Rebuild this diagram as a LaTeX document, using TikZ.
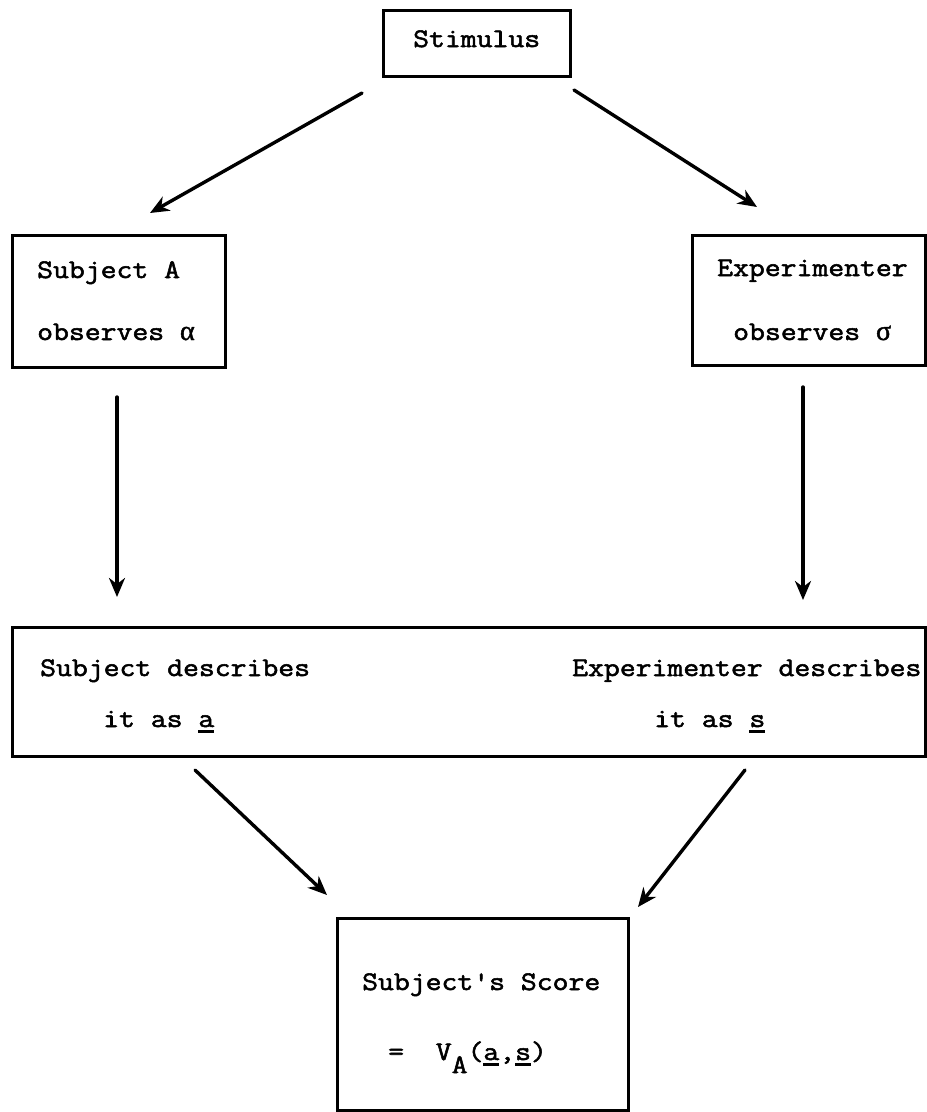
\documentclass[tikz,border=0pt]{standalone}
\usepackage{fontspec}
\setmonofont[FakeStretch=1.15, FakeBold=2]{Latin Modern Mono}
\newfontfamily\grk[FakeBold=1.5]{Liberation Serif}
\usetikzlibrary{arrows.meta}
% typewriter text at the size of the figure
\newcommand{\tw}{\ttfamily\fontsize{26.8}{30}\selectfont}
% Greek letters taken from a serif face
\newcommand{\gk}[1]{{\grk\fontsize{28}{30}\selectfont #1}}
% heavy typewriter-style underline
\newcommand{\usc}[1]{\sbox0{#1}\rlap{\rule[-6pt]{\wd0}{2.6pt}}#1}
\begin{document}
\begin{tikzpicture}[x=1pt,y=-1pt,
  box/.style={draw, line width=3pt, inner sep=0pt},
  txt/.style={anchor=base west, inner sep=0pt, font=\tw},
  flow/.style={line width=3.4pt, line cap=round,
    -{Stealth[length=19pt,width=16pt,inset=6pt]}}]
\useasboundingbox (0,0) rectangle (927,1112);

% boxes
\node[box, minimum width=187pt, minimum height=66pt]  (stim)  at (476.5,43)   {};
\node[box, minimum width=213pt, minimum height=132pt] (subj)  at (118.5,301)  {};
\node[box, minimum width=233pt, minimum height=130pt] (expt)  at (808.5,300)  {};
\node[box, minimum width=913pt, minimum height=129pt] (desc)  at (468.5,691.5) {};
\node[box, minimum width=291pt, minimum height=192pt] (score) at (482.5,1014) {};

% texts
\node[txt] (tstim) at (413,47)  {Stimulus};
\node[txt] (ts1)   at (37,278)  {Subject A};
\node[txt] (ts2)   at (37,340)  {observes \gk{α}};
\node[txt] (te1)   at (717,276) {Experimenter};
\node[txt] (te2)   at (733,340) {observes \gk{σ}};
\node[txt] (td1)   at (40,676)  {Subject describes};
\node[txt] (td2)   at (103,727) {it as \usc{a}};
\node[txt] (td3)   at (572,676) {Experimenter describes};
\node[txt] (td4)   at (654,727) {it as \usc{s}};
\node[txt] (tr1)   at (362,990) {Subject's Score};
\node[txt] (tr2)   at (388,1060) {=\ \ V\raisebox{-13pt}{A}(\usc{a},\usc{s})};

% arrow end points
\coordinate (a1s) at (362,93);  \coordinate (a1e) at (150,213);
\coordinate (a2s) at (574,90);  \coordinate (a2e) at (757,207);
\coordinate (a3s) at (117,397); \coordinate (a3e) at (117,597);
\coordinate (a4s) at (803,387); \coordinate (a4e) at (803,600);
\coordinate (a5s) at (195,770); \coordinate (a5e) at (327,895);
\coordinate (a6s) at (745,770); \coordinate (a6e) at (638,907);

% connectors
\draw[flow] (a1s) -- (a1e);
\draw[flow] (a2s) -- (a2e);
\draw[flow] (a3s) -- (a3e);
\draw[flow] (a4s) -- (a4e);
\draw[flow] (a5s) -- (a5e);
\draw[flow] (a6s) -- (a6e);
\end{tikzpicture}
\end{document}
